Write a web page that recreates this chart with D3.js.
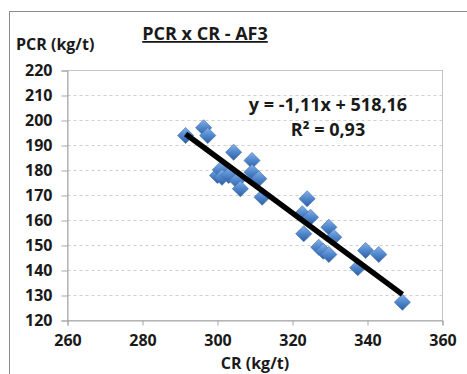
<!DOCTYPE html>
<html>
<head>
<meta charset="utf-8">
<script src="https://cdn.jsdelivr.net/npm/d3@7"></script>
<style>
  body { margin: 0; background: #fff; }
  text { font-family: "Open Sans", "Noto Sans", sans-serif; font-weight: bold; fill: #1a1a1a; }
</style>
</head>
<body>
<div id="chart"></div>
<script>
// data
var cr = [291.5, 296.3, 297.4, 300, 300.8, 301.2, 303, 304.3, 305.2, 306.1, 309.2, 309.2, 311, 311.9,
  322.6, 323, 323.9, 324.8, 327, 328.2, 329.7, 329.7, 331, 337.4, 339.5, 343, 349.3];
var pcr = [194, 197.1, 194, 178, 180.3, 177.3, 178, 187.3, 176, 172.7, 184, 179.3, 176.7, 169.3,
  162.7, 154.7, 168.7, 161.3, 149.3, 147.7, 157.3, 146.4, 153.3, 141.1, 148, 146.4, 127.3];
var xTicks = [260, 280, 300, 320, 340, 360];
var yTicks = [120, 130, 140, 150, 160, 170, 180, 190, 200, 210, 220];
var slope = -1.11, intercept = 518.16;

var width = 467, height = 374;
var plotL = 67.5, plotR = 442.5, plotT = 70.5, plotB = 320.5;

var svg = d3.select("#chart").append("svg")
  .attr("width", width)
  .attr("height", height);

// outer chart border
svg.append("rect")
  .attr("x", 9.5).attr("y", 11.5)
  .attr("width", 500).attr("height", 400)
  .attr("fill", "#fff")
  .attr("stroke", "#8c8c8c");

var defs = svg.append("defs");
var grad = defs.append("linearGradient")
  .attr("id", "dia")
  .attr("x1", "0").attr("y1", "0").attr("x2", "1").attr("y2", "1");
grad.append("stop").attr("offset", "0").attr("stop-color", "#86b1e6");
grad.append("stop").attr("offset", "0.5").attr("stop-color", "#4f86cc");
grad.append("stop").attr("offset", "1").attr("stop-color", "#2f5f9f");

var x = d3.scaleLinear().domain([260, 360]).range([plotL, plotR]);
var y = d3.scaleLinear().domain([120, 220]).range([plotB, plotT]);

// grid
svg.append("g")
  .selectAll("line")
  .data(yTicks.slice(1, -1))
  .enter()
  .append("line")
  .attr("x1", plotL).attr("x2", plotR)
  .attr("y1", (d) => y(d))
  .attr("y2", (d) => y(d))
  .attr("stroke", "#cfcfcf")
  .attr("stroke-dasharray", "3,3");

// plot area border
svg.append("rect")
  .attr("x", plotL).attr("y", plotT)
  .attr("width", plotR - plotL).attr("height", plotB - plotT)
  .attr("fill", "none")
  .attr("stroke", "#c4c4c4");

var xAxis = d3.axisBottom(x).tickValues(xTicks).tickSize(5).tickPadding(9);
var yAxis = d3.axisLeft(y).tickValues(yTicks).tickSize(6).tickPadding(9);

var gx = svg.append("g")
  .attr("transform", "translate(0," + plotB + ")")
  .call(xAxis);
var gy = svg.append("g")
  .attr("transform", "translate(" + plotL + ",0)")
  .call(yAxis);

[gx, gy].forEach(function (g) {
  g.select(".domain").attr("stroke", "#a6a6a6");
  g.selectAll(".tick line").attr("stroke", "#a6a6a6");
  g.selectAll(".tick text")
    .attr("fill", "#1a1a1a")
    .style("font-size", "16px")
    .style("font-family", "'Open Sans', sans-serif")
    .style("font-weight", "bold");
});

// points
svg.append("g")
  .selectAll("path")
  .data(cr)
  .enter()
  .append("path")
  .attr("d", d3.symbol().type(d3.symbolSquare).size(130))
  .attr("transform", (d, i) => "translate(" + x(d) + "," + y(pcr[i]) + ") rotate(45)")
  .attr("fill", "url(#dia)")
  .attr("stroke", "#3a6cae")
  .attr("stroke-width", 0.6);

// trendline
var x0 = d3.min(cr), x1 = d3.max(cr);
svg.append("line")
  .attr("x1", x(x0)).attr("y1", y(slope * x0 + intercept))
  .attr("x2", x(x1)).attr("y2", y(slope * x1 + intercept))
  .attr("stroke", "#000")
  .attr("stroke-width", 5.5);

// texts
svg.append("text")
  .attr("x", 205).attr("y", 40)
  .attr("text-anchor", "middle")
  .style("font-size", "18px")
  .style("text-decoration", "underline")
  .text("PCR x CR - AF3");

svg.append("text")
  .attr("x", 16).attr("y", 50)
  .style("font-size", "16px")
  .text("PCR (kg/t)");

svg.append("text")
  .attr("x", 255).attr("y", 369)
  .attr("text-anchor", "middle")
  .style("font-size", "16px")
  .text("CR (kg/t)");

svg.append("text")
  .attr("x", 328).attr("y", 111)
  .attr("text-anchor", "middle")
  .style("font-size", "18px")
  .text("y = -1,11x + 518,16");

svg.append("text")
  .attr("x", 328).attr("y", 136)
  .attr("text-anchor", "middle")
  .style("font-size", "18px")
  .text("R² = 0,93");
</script>
</body>
</html>
